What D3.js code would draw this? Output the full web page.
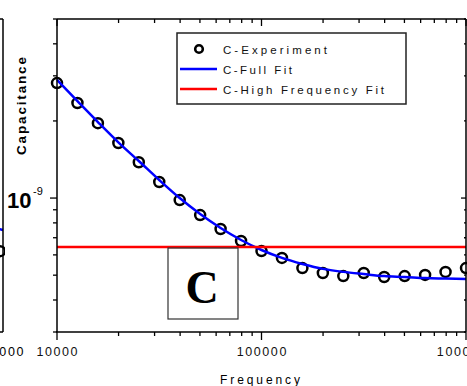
<!DOCTYPE html>
<html><head><meta charset="utf-8">
<script src="https://cdn.jsdelivr.net/npm/d3@7"></script>
<style>body{margin:0;background:#fff} svg{display:block}</style>
</head><body><svg id="c" width="467" height="386"></svg>
<script>
// ---- data ----
const frequencies = [10000, 12589, 15849, 19953, 25119, 31623, 39811, 50119, 63096, 79433,
  100000, 125893, 158489, 199526, 251189, 316228, 398107, 501187, 630957, 794328, 1000000];
const experimentC = [2.81e-9, 2.35e-9, 1.96e-9, 1.64e-9, 1.38e-9, 1.155e-9, 9.82e-10, 8.58e-10, 7.57e-10, 6.80e-10,
  6.21e-10, 5.84e-10, 5.33e-10, 5.10e-10, 4.96e-10, 5.10e-10, 4.92e-10, 4.96e-10, 5.01e-10, 5.15e-10, 5.33e-10];
const fullFitC = [2.89e-9, 2.39e-9, 1.98e-9, 1.65e-9, 1.395e-9, 1.176e-9, 1.0e-9, 8.66e-10, 7.64e-10, 6.86e-10,
  6.27e-10, 5.84e-10, 5.53e-10, 5.29e-10, 5.15e-10, 5.05e-10, 4.96e-10, 4.92e-10, 4.87e-10, 4.85e-10, 4.83e-10];
const highFreqFrequencies = [10000, 1000000];
const highFreqC = [6.44e-10, 6.44e-10];
const xTickLabels = ["10000", "100000", "1000000"];
const xTickValues = [1e4, 1e5, 1e6];
const yTickLabel = "10";
const yTickExponent = "-9";
const legendLabels = ["C-Experiment", "C-Full Fit", "C-High Frequency Fit"];
const panelLetter = "C";
const xTitle = "Frequency";
const yTitle = "Capacitance";
// neighbouring panel remnants (left edge of the crop)
const neighbourFrequencies = [794328, 1000000];
const neighbourFitC = [7.9e-10, 7.5e-10];
const neighbourExpC = [6.2e-10];
const neighbourExpF = [1000000];

// ---- layout ----
const svg = d3.select("#c");
const L = 57, R = 466, T = 19, B = 332;
const x = d3.scaleLog().domain([1e4, 1e6]).range([L, R]);
const y = d3.scaleLog().domain([3e-10, 5e-9]).range([B, T]);
const FONT = "'Liberation Sans', Arial, sans-serif";

// neighbour panel (only its right edge is visible)
const xn = d3.scaleLog().domain([1e4, 1e6]).range([3 - (R - L), 3]);
const ng = svg.append("g");
ng.append("clipPath").attr("id", "nclip").append("rect").attr("x", 0).attr("y", 0).attr("width", 5).attr("height", 386);
const ngd = ng.append("g").attr("clip-path", "url(#nclip)");
ngd.selectAll("circle").data(neighbourExpF).join("circle")
  .attr("cx", (d) => xn(d) - 3).attr("cy", (d, i) => y(neighbourExpC[i])).attr("r", 5)
  .attr("fill", "none").attr("stroke", "#000").attr("stroke-width", 2.4);
ngd.append("path").datum(neighbourFrequencies)
  .attr("d", d3.line().x(d => xn(d)).y((d, i) => y(neighbourFitC[i])))
  .attr("fill", "none").attr("stroke", "#0000ff").attr("stroke-width", 2.5);
ng.append("line").attr("x1", xn(1e6)).attr("x2", xn(1e6)).attr("y1", T).attr("y2", B)
  .attr("stroke", "#000").attr("stroke-width", 1.5);
ng.append("line").attr("x1", 0).attr("x2", xn(1e6)).attr("y1", B).attr("y2", B)
  .attr("stroke", "#000").attr("stroke-width", 1.5);
ng.append("line").attr("x1", 0).attr("x2", xn(1e6)).attr("y1", T).attr("y2", T)
  .attr("stroke", "#000").attr("stroke-width", 1.5);
ng.append("text").attr("x", 25).attr("y", 356).attr("text-anchor", "end")
  .attr("font-family", FONT).attr("font-size", 12.5).attr("letter-spacing", 1.6).text(xTickLabels[2]);

// ---- data marks ----
svg.append("g").selectAll("circle").data(frequencies).join("circle")
  .attr("cx", d => x(d)).attr("cy", (d, i) => y(experimentC[i])).attr("r", 5)
  .attr("fill", "none").attr("stroke", "#000").attr("stroke-width", 2.5);

svg.append("path").datum(frequencies)
  .attr("d", d3.line().curve(d3.curveMonotoneX).x(d => x(d)).y((d, i) => y(fullFitC[i])))
  .attr("fill", "none").attr("stroke", "#0000ff").attr("stroke-width", 2.5);

svg.append("path").datum(highFreqFrequencies)
  .attr("d", d3.line().x(d => x(d)).y((d, i) => y(highFreqC[i])))
  .attr("fill", "none").attr("stroke", "#ff0000").attr("stroke-width", 2.5);

// ---- axes frame ----
const ax = svg.append("g").attr("stroke", "#000").attr("stroke-width", 1.5);
ax.append("line").attr("x1", L).attr("x2", L).attr("y1", T).attr("y2", B);
ax.append("line").attr("x1", R).attr("x2", R).attr("y1", T).attr("y2", B);
ax.append("line").attr("x1", L).attr("x2", R).attr("y1", T).attr("y2", T);
ax.append("line").attr("x1", L - 1).attr("x2", R).attr("y1", B).attr("y2", B);

const xt = x.ticks();
const isMajor = d => Math.abs(Math.log10(d) - Math.round(Math.log10(d))) < 1e-9;
const tk = svg.append("g").attr("stroke", "#000").attr("stroke-width", 1.3);
xt.forEach(d => {
  const px = x(d), maj = isMajor(d);
  tk.append("line").attr("x1", px).attr("x2", px).attr("y1", B).attr("y2", B + (maj ? 8 : 4));
  tk.append("line").attr("x1", px).attr("x2", px).attr("y1", T).attr("y2", T + (maj ? 7 : 4));
});
const yt = y.ticks();
yt.forEach(d => {
  const py = y(d), maj = isMajor(d);
  tk.append("line").attr("x1", L).attr("x2", L - (maj ? 7 : 4)).attr("y1", py).attr("y2", py);
  tk.append("line").attr("x1", R).attr("x2", R - (maj ? 5 : 2)).attr("y1", py).attr("y2", py);
});

// ---- tick labels ----
xTickValues.forEach((v, i) => {
  svg.append("text").attr("x", x(v) + 0.8).attr("y", 356).attr("text-anchor", "middle")
    .attr("font-family", FONT).attr("font-size", 12.5).attr("letter-spacing", 1.6)
    .attr("fill", "#111").text(xTickLabels[i]);
});
svg.append("text").attr("x", 7).attr("y", y(1e-9) + 10).attr("font-family", FONT)
  .attr("font-size", 22).attr("font-weight", "bold").text(yTickLabel);
svg.append("text").attr("x", 33).attr("y", y(1e-9) - 3).attr("font-family", FONT)
  .attr("font-size", 11).text(yTickExponent);

// ---- titles ----
svg.append("text").attr("transform", `translate(26,106) rotate(-90)`).attr("text-anchor", "middle")
  .attr("font-family", FONT).attr("font-size", 13.5).attr("font-weight", "bold")
  .attr("textLength", 98).attr("lengthAdjust", "spacing").text(yTitle);
svg.append("text").attr("x", 260).attr("y", 384).attr("text-anchor", "middle")
  .attr("font-family", FONT).attr("font-size", 12)
  .attr("textLength", 80).attr("lengthAdjust", "spacing").text(xTitle);

// ---- legend ----
const lg = svg.append("g");
lg.append("rect").attr("x", 177).attr("y", 33).attr("width", 229).attr("height", 71)
  .attr("fill", "#fff").attr("stroke", "#222").attr("stroke-width", 1.5);
const rowY = [49, 69, 89];
lg.append("circle").attr("cx", 199).attr("cy", rowY[0]).attr("r", 3.8)
  .attr("fill", "none").attr("stroke", "#000").attr("stroke-width", 2.6);
lg.append("line").attr("x1", 180).attr("x2", 217).attr("y1", rowY[1]).attr("y2", rowY[1])
  .attr("stroke", "#0000ff").attr("stroke-width", 2.5);
lg.append("line").attr("x1", 180).attr("x2", 217).attr("y1", rowY[2]).attr("y2", rowY[2])
  .attr("stroke", "#ff0000").attr("stroke-width", 2.5);
const legendWidths = [104, 69, 161];
legendLabels.forEach((t, i) => {
  lg.append("text").attr("x", 223).attr("y", rowY[i] + 4.5).attr("font-family", FONT)
    .attr("font-size", 11.5).attr("textLength", legendWidths[i]).attr("lengthAdjust", "spacing")
    .attr("fill", "#111").text(t);
});

// ---- panel letter box ----
svg.append("rect").attr("x", 168).attr("y", 248).attr("width", 70).attr("height", 71)
  .attr("fill", "none").attr("stroke", "#333").attr("stroke-width", 1.2);
svg.append("text").attr("x", 202).attr("y", 303).attr("text-anchor", "middle")
  .attr("font-family", "'Liberation Serif', 'Times New Roman', serif").attr("font-weight", "bold")
  .attr("font-size", 46).text(panelLetter);
</script></body></html>
